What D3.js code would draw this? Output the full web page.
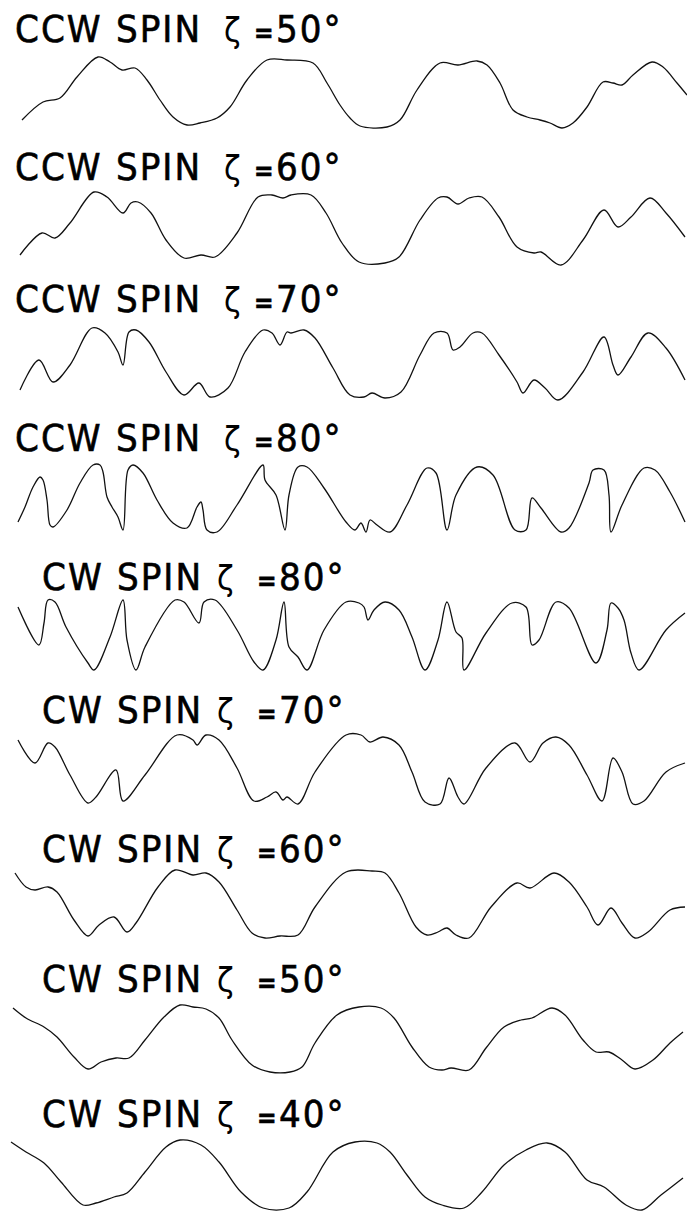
<!DOCTYPE html>
<html>
  <head>
    <title></title>
    <script src="https://d3js.org/d3.v7.min.js"></script>
    <style type="text/css">
      body {
        margin: 0;
        background: #ffffff;
      }
      svg {
        display: block;
      }
      .label {
        font-family: "Liberation Sans Narrow", "DejaVu Sans Condensed", "Roboto Condensed", sans-serif;
        font-stretch: condensed;
        font-size: 38px;
        letter-spacing: 2px;
        fill: #000;
        stroke: #000;
        stroke-width: 0.6px;
      }
      .trace {
        fill: none;
        stroke: #111;
        stroke-width: 1.3px;
      }
    </style>
  </head>

  <body>
    <div class="chart"></div>
    <script type="text/javascript">
      // spin direction and cone angle for each strip, top to bottom
      var directions = ['CCW', 'CCW', 'CCW', 'CCW', 'CW', 'CW', 'CW', 'CW', 'CW'];
      var angles = [50, 60, 70, 80, 80, 70, 60, 50, 40];

      // traces: [sweep position, amplitude]
      var ccw50 = [[22,10],[43,28],[60,32],[77,53],[98,73],[110,68],[122,60],[135,62],[147,50],[160,30],[173,13],[187,5],[200,7],[217,12],[230,23],[247,50],[267,70],[287,70],[313,67],[327,47],[340,25],[350,12],[360,4],[387,3],[400,10],[417,40],[440,67],[458,65],[477,69],[487,65],[500,47],[513,20],[527,13],[540,10],[550,7],[562,2],[573,7],[587,23],[603,48],[613,47],[622,45],[633,55],[652,68],[663,63],[677,47],[687,35]];
      var ccw60 = [[20,13],[42,35],[55,30],[70,45],[94,76],[107,71],[123,55],[131,65],[138,66],[151,55],[166,28],[184,10],[201,13],[215,11],[237,35],[258,71],[272,73],[283,70],[291,73],[311,73],[326,55],[342,25],[359,6],[385,5],[399,11],[420,48],[438,70],[447,71],[458,64],[469,70],[482,71],[499,51],[517,21],[534,15],[541,16],[561,3],[583,28],[604,58],[618,41],[631,51],[650,70],[666,55],[685,31]];
      var ccw70 = [[20,8],[39,38],[53,16],[70,33],[92,70],[105,65],[118,46],[123,33],[129,66],[136,68],[149,56],[166,26],[184,3],[199,15],[210,1],[228,10],[245,46],[263,68],[272,65],[280,53],[287,66],[291,65],[304,68],[315,60],[333,30],[350,3],[364,1],[372,5],[385,0],[401,6],[420,43],[434,65],[447,65],[453,48],[460,51],[473,65],[482,65],[499,43],[517,16],[523,5],[534,18],[545,10],[558,-2],[583,26],[604,61],[613,33],[618,23],[631,41],[648,65],[666,50],[685,18]];
      var ccw80 = [[18,15],[25,30],[33,50],[40,60],[43,57],[47,37],[50,12],[53,10],[67,27],[80,54],[93,72],[100,72],[103,65],[107,40],[112,30],[118,20],[123,7],[128,67],[133,72],[143,64],[157,37],[173,14],[187,9],[197,30],[201,35],[203,27],[207,7],[217,5],[237,32],[263,72],[265,57],[276,42],[285,7],[289,42],[298,70],[307,70],[324,49],[346,15],[355,7],[361,14],[366,5],[370,17],[377,12],[390,5],[407,32],[427,69],[436,64],[447,7],[456,42],[477,70],[493,62],[515,7],[526,7],[532,39],[541,29],[561,5],[569,9],[589,54],[593,67],[604,67],[609,42],[611,5],[622,32],[644,69],[655,67],[670,45],[685,15]];
      var cw80 = [[18,69],[39,31],[44,53],[48,76],[55,74],[66,49],[88,13],[94,6],[110,39],[123,76],[127,36],[136,6],[145,29],[175,76],[184,74],[199,53],[204,74],[215,76],[237,46],[254,14],[263,6],[276,36],[284,74],[289,29],[298,19],[307,6],[324,46],[346,74],[359,73],[364,69],[368,56],[374,66],[385,74],[399,66],[412,39],[425,6],[438,36],[447,74],[456,44],[462,38],[464,6],[486,43],[512,73],[526,69],[532,31],[539,36],[556,74],[569,68],[596,13],[607,46],[611,73],[618,68],[624,56],[631,23],[639,6],[666,46],[685,63]];
      var cw70 = [[18,69],[35,46],[48,66],[55,62],[70,34],[88,6],[96,12],[116,39],[123,8],[145,34],[177,74],[193,69],[197,64],[206,74],[219,69],[237,41],[254,8],[267,12],[276,17],[283,9],[287,12],[298,5],[315,37],[346,74],[361,74],[370,67],[383,72],[399,64],[412,37],[425,7],[440,5],[449,31],[458,12],[464,5],[486,41],[515,66],[530,47],[543,66],[556,72],[569,64],[587,34],[602,8],[613,51],[622,37],[633,5],[644,8],[666,37],[685,46]];
      var cw60 = [[15,73],[26,59],[35,56],[48,59],[57,54],[74,26],[88,10],[99,21],[114,29],[127,14],[136,23],[158,59],[175,76],[193,71],[206,73],[219,64],[237,36],[252,13],[265,8],[280,10],[298,11],[315,39],[346,74],[372,75],[385,73],[399,53],[416,19],[427,11],[438,14],[447,18],[456,11],[469,8],[491,39],[517,63],[530,58],[554,73],[569,64],[587,39],[598,21],[611,38],[622,23],[635,8],[648,14],[670,36],[685,39]];
      var cw50 = [[13,69],[26,59],[44,50],[57,40],[74,20],[88,8],[101,15],[116,19],[129,19],[145,37],[164,60],[180,72],[193,70],[206,68],[219,59],[232,37],[252,12],[270,5],[290,5],[302,10],[315,34],[337,62],[359,70],[381,69],[394,59],[412,30],[429,10],[442,7],[451,9],[469,7],[486,29],[504,50],[521,57],[532,59],[552,69],[565,62],[583,37],[596,25],[609,25],[622,17],[635,8],[653,17],[670,34],[683,45]];
      var cw40 = [[11,70],[26,60],[44,49],[61,30],[83,7],[96,9],[114,15],[127,19],[145,40],[166,65],[180,72],[201,67],[219,50],[241,20],[263,4],[289,4],[307,20],[333,60],[355,70],[377,69],[390,60],[407,37],[425,15],[442,7],[464,4],[482,20],[504,47],[526,62],[547,69],[565,60],[587,32],[604,25],[626,7],[642,2],[661,17],[683,34]];

      var traces = [ccw50, ccw60, ccw70, ccw80, cw80, cw70, cw60, cw50, cw40];

      var width = 687;
      var height = 1213;

      // strip layout: trace floor and label baseline of each strip
      var floorY = [130, 268, 398, 537, 676, 809, 946, 1077, 1212];
      var labelY = [42, 180, 312, 451, 590, 723, 862, 992, 1127];

      var svg = d3.select('.chart').append('svg')
        .attr('width', width)
        .attr('height', height);

      var x = d3.scaleLinear().domain([0, 687]).range([0, width]);

      traces.forEach(function (data, i) {
        var y = d3.scaleLinear().domain([0, 100]).range([floorY[i], floorY[i] - 100]);

        var line = d3.line()
          .x(function (d) { return x(d[0]); })
          .y(function (d) { return y(d[1]); })
          .curve(d3.curveCatmullRom.alpha(0.5));

        svg.append('path')
          .datum(data)
          .attr('class', 'trace')
          .attr('d', line);

        var ccw = directions[i] == 'CCW';
        var parts = [
          {t: directions[i], x: ccw ? 15 : 42},
          {t: 'SPIN', x: ccw ? 116 : 117},
          {t: '\u03b6', x: ccw ? 224 : 217, zeta: true},
          {t: '=', x: ccw ? 254 : 257, eq: true},
          {t: angles[i] + '\u00b0', x: ccw ? 276 : 279}
        ];

        var label = svg.append('text')
          .attr('class', 'label')
          .attr('y', labelY[i]);

        label.selectAll('tspan')
          .data(parts)
          .enter()
          .append('tspan')
            .attr('x', function (d) { return d.x; })
            .style('font-size', function (d) { return d.eq ? '26px' : (d.zeta ? '34px' : null); })
            .style('font-weight', function (d) { return d.eq ? 'bold' : null; })
            .style('stroke-width', function (d) { return d.zeta ? '0px' : null; })
            .style('font-family', function (d) { return d.zeta ? '"DejaVu Sans", sans-serif' : null; })
            .text(function (d) { return d.t; });
      });
    </script>
  </body>
</html>
